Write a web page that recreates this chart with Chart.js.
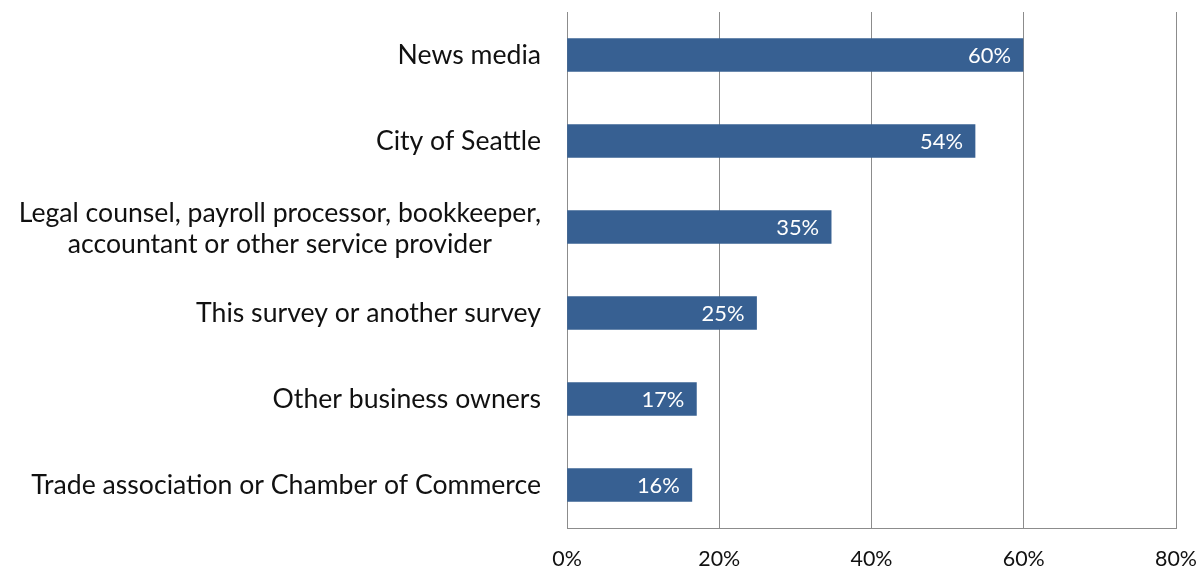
<!DOCTYPE html>
<html>
<head>
<meta charset="utf-8">
<script src="https://cdn.jsdelivr.net/npm/chart.js@4.4.1/dist/chart.umd.min.js"></script>
<style>
html,body{margin:0;padding:0;background:#fff;}
#wrap{width:1204px;height:570px;position:relative;}
</style>
</head>
<body>
<div id="wrap"><canvas id="c" width="1204" height="570"></canvas></div>
<script>
const categories = [
  ["News media"],
  ["City of Seattle"],
  ["Legal counsel, payroll processor, bookkeeper,", "accountant or other service provider"],
  ["This survey or another survey"],
  ["Other business owners"],
  ["Trade association or Chamber of Commerce"]
];
const values = [59.9, 53.6, 34.7, 24.9, 17.0, 16.4];
const valueLabels = ["60%", "54%", "35%", "25%", "17%", "16%"];
const xTicks = [0, 20, 40, 60, 80];

const FONT = "Lato";
const BAR = "#376092";

const mctx = document.createElement('canvas').getContext('2d');
function fitSize(text, target, base) {
  mctx.font = base + "px '" + FONT + "'";
  return base * target / mctx.measureText(text).width;
}
const catSize = fitSize("Trade association or Chamber of Commerce", 510, 20);
const valSize = fitSize("60%", 43, 18);
const tickSize = fitSize("80%", 42, 18);

const labelPlugin = {
  id: 'customLabels',
  afterDatasetsDraw(chart) {
    const ctx = chart.ctx;
    const y = chart.scales.y;
    const meta = chart.getDatasetMeta(0);
    ctx.save();
    ctx.font = catSize + "px '" + FONT + "'";
    ctx.fillStyle = "#111";
    ctx.textBaseline = "middle";
    ctx.textAlign = "center";
    const lh = 31;
    categories.forEach((lines, i) => {
      const cy = y.getPixelForValue(i) + (lines.length > 1 ? 2 : 0);
      let maxW = 0;
      lines.forEach(l => { maxW = Math.max(maxW, ctx.measureText(l).width); });
      const cx = 541 - maxW / 2;
      const start = cy - (lines.length - 1) * lh / 2;
      lines.forEach((l, k) => ctx.fillText(l, cx, start + k * lh));
    });
    ctx.font = valSize + "px '" + FONT + "'";
    ctx.fillStyle = "#ffffff";
    ctx.textAlign = "right";
    meta.data.forEach((bar, i) => {
      ctx.fillText(valueLabels[i], bar.x - 12, bar.y + 1);
    });
    ctx.restore();
  }
};

new Chart(document.getElementById('c'), {
  type: 'bar',
  data: {
    labels: categories.map(c => c.join(' ')),
    datasets: [{
      data: values,
      backgroundColor: BAR,
      borderWidth: 0,
      barThickness: 33
    }]
  },
  plugins: [labelPlugin],
  options: {
    indexAxis: 'y',
    responsive: false,
    animation: false,
    layout: { padding: { top: 12, right: 28, left: 0, bottom: 0 } },
    plugins: { legend: { display: false }, tooltip: { enabled: false } },
    scales: {
      x: {
        min: 0, max: 80,
        afterBuildTicks(scale) { scale.ticks = xTicks.map(v => ({ value: v })); },
        afterFit(scale) {
          scale.height = 42;
          scale.paddingLeft = 0; scale.paddingRight = 0;
        },
        grid: { color: "#8c8c8c", lineWidth: 1, drawTicks: false },
        border: { display: true, color: "#8c8c8c" },
        ticks: {
          padding: 18,
          color: "#111",
          font: { family: FONT, size: tickSize },
          callback: v => v + "%"
        }
      },
      y: {
        afterFit(scale) { scale.width = 567; },
        grid: { display: false },
        border: { display: true, color: "#8c8c8c" },
        ticks: { display: false }
      }
    }
  }
});
</script>
</body>
</html>
